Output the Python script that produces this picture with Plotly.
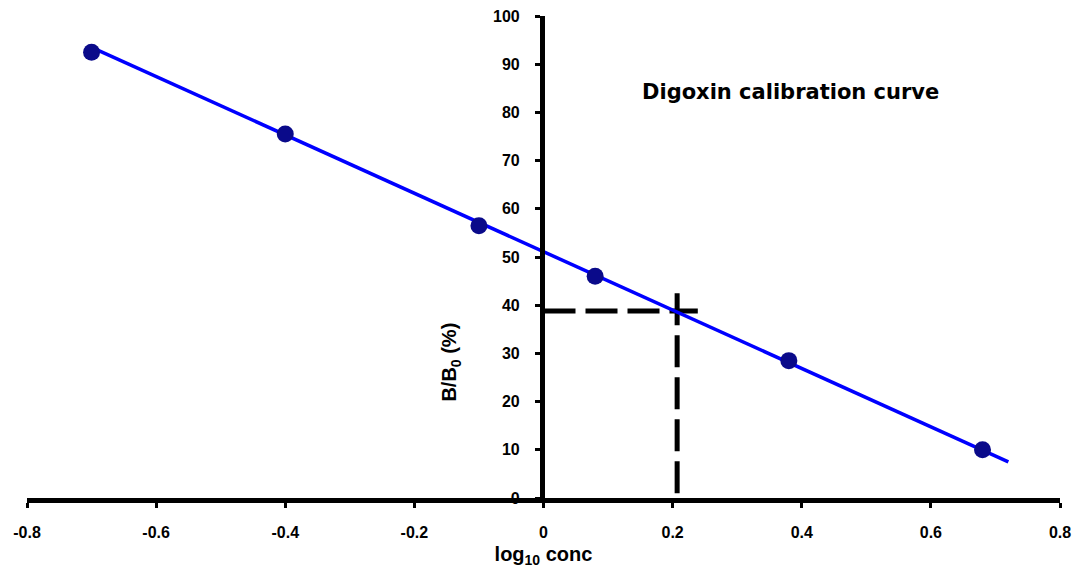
import plotly.graph_objects as go

# data
log_conc = [-0.7, -0.4, -0.1, 0.08, 0.38, 0.68]
b_b0 = [92.5, 75.5, 56.5, 46.0, 28.5, 10.0]
fit_x = [-0.7, 0.72]
fit_y = [93.5, 7.5]
dash_h_x = [0, 0.239]
dash_h_y = [38.8, 38.8]
dash_v_x = [0.207, 0.207]
dash_v_y = [42.5, 0]
x_ticks = [-0.8, -0.6, -0.4, -0.2, 0, 0.2, 0.4, 0.6, 0.8]
y_ticks = [0, 10, 20, 30, 40, 50, 60, 70, 80, 90, 100]

FONT = "Liberation Sans, Arial, sans-serif"

fig = go.Figure()
fig.add_trace(go.Scatter(x=dash_h_x, y=dash_h_y, mode="lines",
                         line=dict(color="black", width=5, dash="32px,10px"),
                         hoverinfo="skip", showlegend=False))
fig.add_trace(go.Scatter(x=dash_v_x, y=dash_v_y, mode="lines",
                         line=dict(color="black", width=5, dash="32px,10px"),
                         hoverinfo="skip", showlegend=False))
fig.add_trace(go.Scatter(x=fit_x, y=fit_y, mode="lines",
                         line=dict(color="#0000ff", width=3.5),
                         showlegend=False))
fig.add_trace(go.Scatter(x=log_conc, y=b_b0, mode="markers",
                         marker=dict(color="#0a0a8a", size=17),
                         showlegend=False))

fig.update_layout(
    width=1078, height=573,
    margin=dict(l=27, r=18, t=16, b=75),
    plot_bgcolor="white", paper_bgcolor="white",
    font=dict(family=FONT, color="black"),
    xaxis=dict(range=[-0.8, 0.8], tickvals=x_ticks,
               ticktext=[f"{v:g}" for v in x_ticks],
               automargin=False,
               showgrid=False, zeroline=False, showline=True,
               linecolor="black", linewidth=5,
               ticks="outside", ticklen=5, tickwidth=3, tickcolor="black",
               ticklabelstandoff=11,
               tickfont=dict(size=16, weight="bold", family=FONT),
               title=dict(text="log<sub>10</sub> conc",
                          font=dict(size=20, weight="bold", family=FONT),
                          standoff=8)),
    yaxis=dict(range=[0, 100], tickvals=y_ticks,
               automargin=False,
               showgrid=False, zeroline=False, showline=True,
               linecolor="black", linewidth=5,
               anchor="free", position=0.4985,
               ticks="outside", ticklen=5, tickwidth=3, tickcolor="black",
               ticklabelstandoff=12,
               tickfont=dict(size=16, weight="bold", family=FONT)),
    annotations=[
        dict(text="Digoxin calibration curve", xref="paper", yref="paper",
             x=0.593, y=0.842, xanchor="left", yanchor="middle",
             showarrow=False,
             font=dict(size=21, weight="bold", family="DejaVu Sans, sans-serif")),
        dict(text="B/B<sub>0</sub> (%)", xref="paper", yref="paper",
             x=0.410, y=0.282, textangle=-90, showarrow=False,
             xanchor="center", yanchor="middle",
             font=dict(size=20, weight="bold", family=FONT)),
    ],
)

# remove the browser's default 8px body margin so the figure sits at (0, 0)
fig.write_html("out.html",
               config={"displayModeBar": False},
               post_script="document.body.style.margin='0';")
